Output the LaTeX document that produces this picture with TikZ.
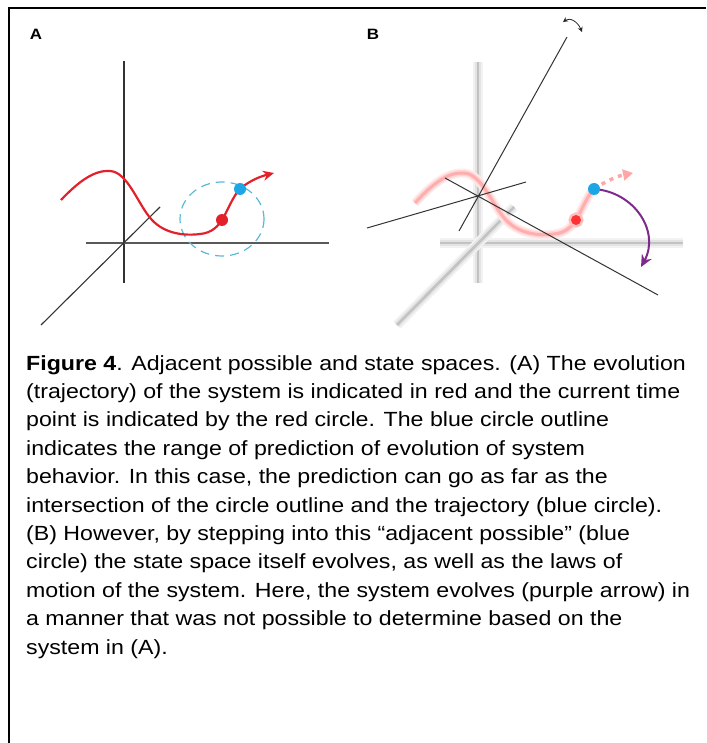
\documentclass[tikz,border=0pt]{standalone}
\usepackage{fontspec}
\setmainfont{Liberation Sans}[FakeStretch=1.13]
\usetikzlibrary{arrows.meta}

\definecolor{trajred}{HTML}{E3212B}
\definecolor{predblue}{HTML}{1CA6E6}
\definecolor{rangeblue}{HTML}{5BB8D4}
\definecolor{evolpurple}{HTML}{7E2A8C}

\begin{document}
\begin{tikzpicture}[
    x=1pt, y=-1pt,
    every node/.style={inner sep=0pt},
    axis/.style={draw=black!80, line width=1.1pt},
    fuzzaxis/.style={
      draw=black!24,
      line width=2.5pt,
      preaction={draw=black!5, line width=10pt},
      preaction={draw=black!11, line width=6pt}
    },
    traj/.style={draw=trajred, line width=2.2pt},
    fuzztraj/.style={
      draw=red!32,
      line width=3pt,
      preaction={draw=red!8, line width=9pt},
      preaction={draw=red!16, line width=6pt}
    },
    dot/.style={circle, minimum size=12pt},
    fuzzdot/.style={
      circle,
      minimum size=10pt,
      fill=red!80,
      preaction={fill=red!25, draw=red!25, line width=5pt}
    },
    label/.style={font=\fontsize{15}{15}\selectfont\bfseries},
    arrow/.style={-{Stealth[length=11pt, width=10pt]}}
  ]
    \useasboundingbox (0,0) rectangle (706,743);

    % frame
    \draw[line width=2pt] (706,8) -- (9,8) -- (9,743);

    % panel A
    \node[label] (labA) at (36,34) {A};
    \draw[axis] (124,61) -- (124,283);
    \draw[axis, draw=black!65, line width=1.4pt] (86,243) -- (329,243);
    \draw[axis] (41,325) -- (160,207);

    \draw[rangeblue, line width=1.2pt, dash pattern=on 9pt off 6pt]
      (222,219) ellipse [x radius=42, y radius=37];

    \draw[traj, arrow] (61,200) .. controls (80,180) and (95,170) .. (110,171)
      .. controls (128,172) and (138,205) .. (152,220)
      .. controls (165,234) and (185,236) .. (200,234)
      .. controls (212,233) and (218,226) .. (222,220)
      .. controls (228,210) and (233,196) .. (240,189)
      .. controls (250,180) and (262,176) .. (274,173);
    \node[dot, fill=trajred] (nowA) at (222,220) {};
    \node[dot, fill=predblue] (predA) at (240,189) {};

    % panel B
    \node[label] (labB) at (373,34) {B};
    \begin{scope}[xshift=354pt]
      \draw[fuzzaxis] (124,62) -- (124,283);
      \draw[fuzzaxis] (86,243) -- (329,243);
      \draw[fuzzaxis] (43,325) -- (160,207);
      \draw[fuzztraj] (61,203) .. controls (80,182) and (95,172) .. (110,173)
        .. controls (128,174) and (138,205) .. (152,220)
        .. controls (165,234) and (185,236) .. (200,234)
        .. controls (212,233) and (218,226) .. (222,220)
        .. controls (228,210) and (233,196) .. (240,189);
      \draw[red!35, line width=3.5pt, dash pattern=on 4pt off 5pt,
        -{Triangle[length=10pt, width=11pt]}]
        (240,189) .. controls (252,181) and (264,176) .. (279,173);
      \node[fuzzdot] (nowB) at (222,220) {};
    \end{scope}

    % new axes of the evolved state space
    \draw[axis, line width=1pt] (459,231) -- (567,37);
    \draw[axis, line width=1pt] (367,228) -- (526,182);
    \draw[axis, line width=1pt] (445,178) -- (658,295);

    \coordinate (rotL) at (563,22);
    \coordinate (rotR) at (582,32);
    \draw[black!85, line width=0.8pt,
      {Stealth[length=5pt, width=5pt]}-{Stealth[length=5pt, width=5pt]}]
      (rotL) .. controls (570,17) and (578,22) .. (rotR);

    \coordinate (evolEnd) at (641,267);
    \draw[evolpurple, line width=2pt, -{Stealth[length=12pt, width=11pt]}]
      (594,189) .. controls (635,192) and (660,232) .. (evolEnd);
    \node[dot, fill=predblue] (predB) at (594,189) {};

    % caption (anchored on the baseline of its last line)
    \node[anchor=base west, align=left,
      font=\fontsize{20.5}{28.4}\selectfont] (caption) at (26,654) {%
      \textbf{Figure 4}. Adjacent possible and state spaces. (A) The evolution\\
      (trajectory) of the system is indicated in red and the current time\\
      point is indicated by the red circle. The blue circle outline\\
      indicates the range of prediction of evolution of system\\
      behavior. In this case, the prediction can go as far as the\\
      intersection of the circle outline and the trajectory (blue circle).\\
      (B) However, by stepping into this “adjacent possible” (blue\\
      circle) the state space itself evolves, as well as the laws of\\
      motion of the system. Here, the system evolves (purple arrow) in\\
      a manner that was not possible to determine based on the\\
      system in (A).};
  \end{tikzpicture}
\end{document}
